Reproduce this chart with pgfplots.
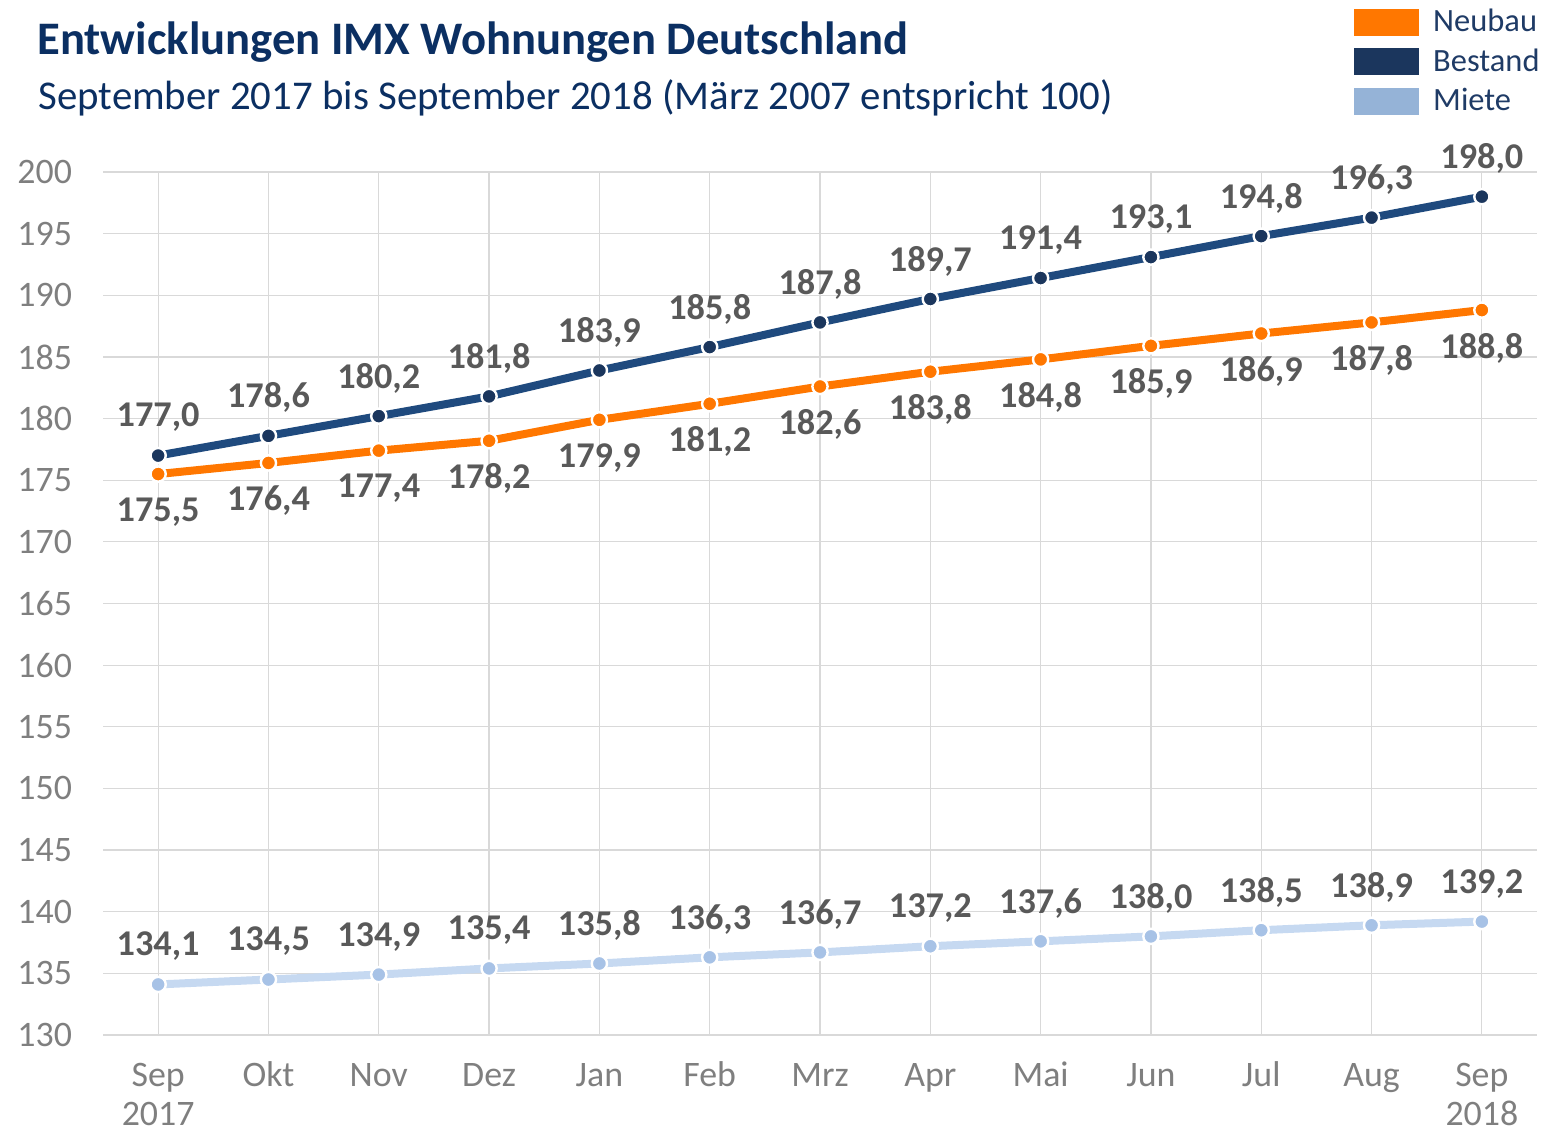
\documentclass[border=0pt]{standalone}
\usepackage{pgfplots}
\pgfplotsset{compat=1.18}
\usepackage{fontspec}
\setmainfont{Carlito}
\definecolor{neubau}{HTML}{FF7700}
\definecolor{bestand}{HTML}{1F4A7E}
\definecolor{bestandmark}{HTML}{1B365D}
\definecolor{bestandleg}{HTML}{1B365D}
\definecolor{miete}{HTML}{C6D9F1}
\definecolor{mietemark}{HTML}{A7C2E6}
\definecolor{mieteleg}{HTML}{95B3D7}
\definecolor{titleblue}{HTML}{0B2F62}
\definecolor{legtext}{HTML}{1F3B66}
\definecolor{ticklab}{HTML}{7F7F7F}
\definecolor{datalab}{HTML}{595959}
\definecolor{gridc}{HTML}{D9D9D9}
\begin{document}
\begin{tikzpicture}
\useasboundingbox (0,0) rectangle (778.5bp,571bp);
\node[anchor=base west, inner sep=0, font=\fontsize{23.4}{27}\selectfont\bfseries, text=titleblue] at (18.5bp,543.5bp) {Entwicklungen IMX Wohnungen Deutschland};
\node[anchor=base west, inner sep=0, font=\fontsize{20.5}{24}\selectfont, text=titleblue] at (19bp,516bp) {September 2017 bis September 2018 (März 2007 entspricht 100)};
\begin{axis}[
 at={(51.5bp,53.5bp)}, anchor=south west, scale only axis, width=717bp, height=431.5bp,
 xmin=-0.5, xmax=12.5, ymin=130, ymax=200,
 ytick={130,135,...,200}, xtick={0,...,12},
 xticklabels={{\strut Sep\\2017},\strut Okt,\strut Nov,\strut Dez,\strut Jan,\strut Feb,\strut Mrz,\strut Apr,\strut Mai,\strut Jun,\strut Jul,\strut Aug,{\strut Sep\\2018}},
 /pgf/number format/assume math mode=true,
 axis line style={draw=none}, tick style={draw=none},
 grid=major, grid style={gridc, line width=0.6bp},
 xticklabel style={font=\fontsize{18}{19.5}\selectfont, text=ticklab, align=center, yshift=-11bp, inner sep=1bp},
 yticklabel style={font=\fontsize{18}{21}\selectfont, text=ticklab, xshift=-12bp},
 legend style={at={(0.8724,1.1937)}, anchor=north west, draw=none, fill=none, inner sep=0pt,
   font=\fontsize{16.3}{19.5}\selectfont, text=legtext, row sep=3bp,
   nodes={inner xsep=7bp}},
 legend cell align=left,
 clip=false,
]
\addlegendimage{legend image code/.code={\fill[neubau] (0bp,-6.5bp) rectangle (32bp,6.5bp);}}
\addlegendentry{Neubau}
\addlegendimage{legend image code/.code={\fill[bestandleg] (0bp,-6.5bp) rectangle (32bp,6.5bp);}}
\addlegendentry{Bestand}
\addlegendimage{legend image code/.code={\fill[mieteleg] (0bp,-6.5bp) rectangle (32bp,6.5bp);}}
\addlegendentry{Miete}

\addplot[forget plot, neubau, line width=4bp, mark=*, mark size=3.8bp,
  mark options={fill=neubau, draw=white, line width=1.2bp},
  nodes near coords={\pgfmathprintnumber[fixed,fixed zerofill,precision=1,use comma,assume math mode=true]{\pgfplotspointmeta}},
  every node near coord/.append style={anchor=center, yshift=-19bp, font=\fontsize{18.2}{21}\selectfont\bfseries, text=datalab}]
 coordinates {(0,175.5) (1,176.4) (2,177.4) (3,178.2) (4,179.9) (5,181.2) (6,182.6) (7,183.8) (8,184.8) (9,185.9) (10,186.9) (11,187.8) (12,188.8)};

\addplot[forget plot, bestand, line width=4bp, mark=*, mark size=3.8bp,
  mark options={fill=bestandmark, draw=white, line width=1.2bp},
  nodes near coords={\pgfmathprintnumber[fixed,fixed zerofill,precision=1,use comma,assume math mode=true]{\pgfplotspointmeta}},
  every node near coord/.append style={anchor=center, yshift=19bp, font=\fontsize{18.2}{21}\selectfont\bfseries, text=datalab}]
 coordinates {(0,177.0) (1,178.6) (2,180.2) (3,181.8) (4,183.9) (5,185.8) (6,187.8) (7,189.7) (8,191.4) (9,193.1) (10,194.8) (11,196.3) (12,198.0)};

\addplot[forget plot, miete, line width=4bp, mark=*, mark size=3.8bp,
  mark options={fill=mietemark, draw=white, line width=1.2bp},
  nodes near coords={\pgfmathprintnumber[fixed,fixed zerofill,precision=1,use comma,assume math mode=true]{\pgfplotspointmeta}},
  every node near coord/.append style={anchor=center, yshift=19bp, font=\fontsize{18.2}{21}\selectfont\bfseries, text=datalab}]
 coordinates {(0,134.1) (1,134.5) (2,134.9) (3,135.4) (4,135.8) (5,136.3) (6,136.7) (7,137.2) (8,137.6) (9,138.0) (10,138.5) (11,138.9) (12,139.2)};
\end{axis}
\end{tikzpicture}
\end{document}
